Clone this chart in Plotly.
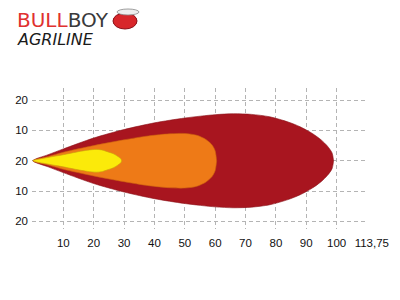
import plotly.graph_objects as go

# ---- data (beam pattern zones: distance vs half-width) ----
red_x = [0, 5, 10, 20, 30, 40, 50, 60, 66, 72, 78, 84, 88, 92, 95, 97, 98.5, 99]
red_h = [0, 2.0, 3.9, 7.5, 10.3, 12.5, 14.1, 15.2, 15.5, 15.3, 14.5, 12.8, 11.2, 9.0, 6.8, 4.8, 2.6, 0]

orange_x = [0, 5, 10, 20, 30, 38, 45, 50, 54, 57, 59, 60, 60.5]
orange_h = [0, 1.4, 2.8, 5.0, 6.9, 8.2, 8.9, 9.0, 8.4, 7.0, 5.2, 3.3, 0]

yellow_x = [0, 5, 10, 15, 18, 21, 23, 24.5, 26.5, 28, 29, 29.2]
yellow_h = [0, 1.1, 2.0, 3.0, 3.5, 3.75, 3.5, 3.0, 2.3, 1.4, 0.6, 0]

x_tickvals = [10, 20, 30, 40, 50, 60, 70, 80, 90, 100, 110]
x_ticktext = ["10", "20", "30", "40", "50", "60", "70", "80", "90", "100", "\u00a0\u00a0\u00a0113,75"]
y_tickvals = [20, 10, 0, -10, -20]
y_ticktext = ["20", "10", "20", "10", "20"]

zones = [
    (red_x, red_h, "#a8151f", "#8a1018"),
    (orange_x, orange_h, "#ee7a17", "#c9600f"),
    (yellow_x, yellow_h, "#fbea0a", "#c9a60a"),
]

fig = go.Figure()
for xs, hs, fill, edge in zones:
    px = list(xs) + list(reversed(xs))
    py = list(hs) + [-h for h in reversed(hs)]
    fig.add_trace(go.Scatter(
        x=px, y=py, mode="lines", fill="toself", fillcolor=fill,
        line=dict(color=edge, width=0.6, shape="spline", smoothing=0.8),
        hoverinfo="skip", showlegend=False,
    ))

tick_font = dict(family="Liberation Sans, Arial", size=11.5, color="#111111")

fig.update_xaxes(
    range=[-0.3, 110], tickvals=[0] + x_tickvals, ticktext=[""] + x_ticktext, tickangle=0,
    showgrid=True, gridcolor="#b4b4b4", griddash="4px,3px", gridwidth=1,
    zeroline=False, showline=False, ticks="", tickfont=tick_font,
    ticklabelstandoff=5,
)
fig.update_yaxes(
    range=[-22.5, 24], tickvals=y_tickvals, ticktext=y_ticktext,
    showgrid=True, gridcolor="#b4b4b4", griddash="4px,3px", gridwidth=1,
    zeroline=False, showline=False, ticks="", tickfont=tick_font,
    ticklabelstandoff=3,
)

# logo text
fig.add_annotation(xref="paper", yref="paper", x=-0.05, y=1.485, xanchor="left", yanchor="middle",
                   text="<span style='color:#e0312f'>BULL</span><span style='color:#3a3a3a'>BOY</span>",
                   showarrow=False, font=dict(family="DejaVu Sans", size=20))
fig.add_annotation(xref="paper", yref="paper", x=-0.05, y=1.345, xanchor="left", yanchor="middle",
                   text="<i>AGRILINE</i>", showarrow=False,
                   font=dict(family="DejaVu Sans", size=16, color="#1a1a1a"))

# bull icon (approximate)
def px2paper(xp, yp):
    return (xp - 32) / 335.0, (229 - yp) / 141.0

x0, y0 = px2paper(113, 29)
x1, y1 = px2paper(137, 13)
fig.add_shape(type="circle", xref="paper", yref="paper", x0=x0, y0=y0, x1=x1, y1=y1,
              fillcolor="#d8262a", line=dict(color="#8a1018", width=1))
hx0, hy0 = px2paper(117, 15)
hx1, hy1 = px2paper(139, 9)
fig.add_shape(type="circle", xref="paper", yref="paper", x0=hx0, y0=hy0, x1=hx1, y1=hy1,
              fillcolor="#eeeeee", line=dict(color="#888888", width=0.8))

fig.update_layout(
    width=400, height=300,
    margin=dict(l=32, r=33, t=88, b=71),
    paper_bgcolor="white", plot_bgcolor="white",
    showlegend=False,
)

fig.write_html("out.html")
